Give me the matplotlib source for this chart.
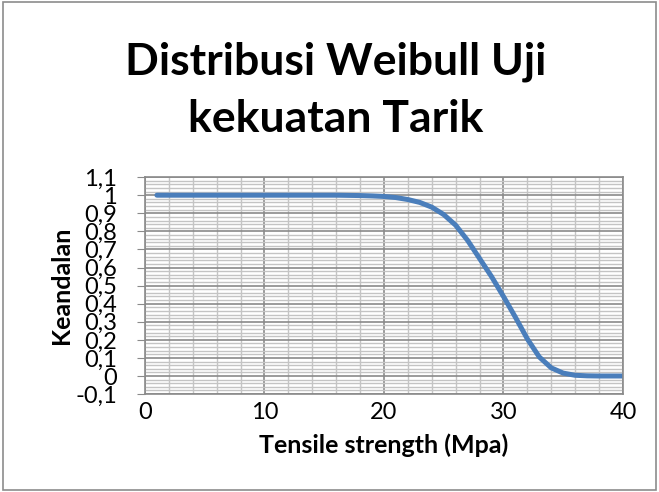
import matplotlib
matplotlib.use("Agg")
import matplotlib.pyplot as plt
from matplotlib.patches import Rectangle
from matplotlib.ticker import MultipleLocator, FixedLocator

plt.rcParams['font.family'] = ['Lato', 'DejaVu Sans']

# Keandalan R(x) dibaca per 1 MPa
tensile = list(range(1, 41))
keandalan = [1.0, 1.0, 1.0, 1.0, 1.0, 1.0, 1.0, 1.0, 1.0, 1.0,
             1.0, 1.0, 1.0, 1.0, 1.0, 1.0, 0.999, 0.998, 0.996, 0.993,
             0.987, 0.976, 0.96, 0.934, 0.893, 0.834, 0.75, 0.65, 0.55, 0.44,
             0.325, 0.205, 0.105, 0.045, 0.016, 0.004, 0.001, 0.0, 0.0, 0.0]

y_ticks = [-0.1, 0.0, 0.1, 0.2, 0.3, 0.4, 0.5, 0.6, 0.7, 0.8, 0.9, 1.0, 1.1]
y_labels = ['-0,1', '0', '0,1', '0,2', '0,3', '0,4', '0,5', '0,6', '0,7',
            '0,8', '0,9', '1', '1,1']
x_ticks = [0, 10, 20, 30, 40]

judul = ['Distribusi Weibull Uji', 'kekuatan Tarik']
label_x = 'Tensile strength (Mpa)'
label_y = 'Keandalan'

fig = plt.figure(figsize=(6.59, 4.92), dpi=100)
fig.patches.append(Rectangle((0.004, 0.004), 0.992, 0.992, transform=fig.transFigure,
                             fill=False, edgecolor='#8c8c8c', linewidth=1.2))

ax = fig.add_axes([0.22, 0.199, 0.7253, 0.441])
ax.set_xlim(0, 40)
ax.set_ylim(-0.1, 1.1)

ax.xaxis.set_major_locator(FixedLocator(x_ticks))
ax.xaxis.set_minor_locator(MultipleLocator(2))
ax.yaxis.set_major_locator(FixedLocator(y_ticks))
ax.yaxis.set_minor_locator(MultipleLocator(0.02))
ax.set_yticklabels(y_labels)

ax.grid(which='minor', color='#c4c4c4', linewidth=1.0)
ax.grid(which='major', color='#8a8a8a', linewidth=1.2)
ax.set_axisbelow(True)
for s in ax.spines.values():
    s.set_color('#8a8a8a')
    s.set_linewidth(1.2)

ax.tick_params(axis='y', which='major', length=6, color='#8a8a8a', pad=14, labelsize=17)
ax.tick_params(axis='x', which='major', length=0, pad=6, labelsize=17)
ax.tick_params(which='minor', length=0)

ax.plot(tensile, keandalan, color='#4a7ebb', linewidth=3.6, solid_capstyle='round')

ax.set_xlabel(label_x, fontsize=18, fontweight='bold', labelpad=7)
ax.set_ylabel(label_y, fontsize=18, fontweight='bold', labelpad=2)

# judul dua baris, posisi baseline tiap baris
for teks, y_px in zip(judul, [75, 132]):
    fig.text(0.51, 1 - y_px / 492, teks, ha='center', va='baseline',
             fontsize=32, fontweight='bold')

fig.savefig('out.png', dpi=100)
